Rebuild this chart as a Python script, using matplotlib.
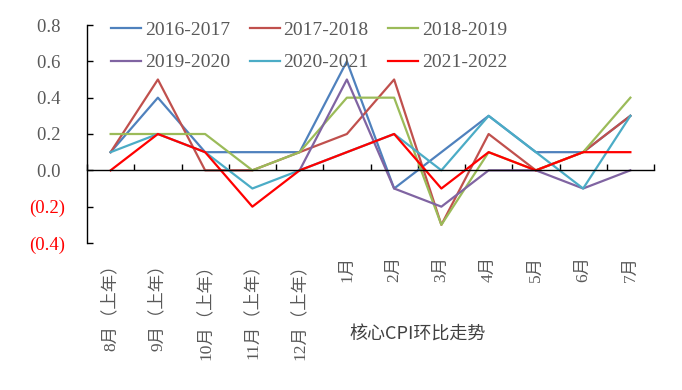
import matplotlib
matplotlib.use("Agg")
import matplotlib.pyplot as plt
import numpy as np

# categories (x axis)
months = ["8月（上年）", "9月（上年）", "10月（上年）", "11月（上年）", "12月（上年）",
          "1月", "2月", "3月", "4月", "5月", "6月", "7月"]

# core CPI month-on-month
s2016_2017 = [0.1, 0.4, 0.1, 0.1, 0.1, 0.6, -0.1, 0.1, 0.3, 0.1, 0.1, 0.3]
s2017_2018 = [0.1, 0.5, 0.0, 0.0, 0.1, 0.2, 0.5, -0.3, 0.2, 0.0, 0.1, 0.3]
s2018_2019 = [0.2, 0.2, 0.2, 0.0, 0.1, 0.4, 0.4, -0.3, 0.1, 0.0, 0.1, 0.4]
s2019_2020 = [np.nan, np.nan, np.nan, np.nan, 0.0, 0.5, -0.1, -0.2, 0.0, 0.0, -0.1, 0.0]
s2020_2021 = [0.1, 0.2, 0.1, -0.1, 0.0, 0.1, 0.2, 0.0, 0.3, 0.1, -0.1, 0.3]
s2021_2022 = [0.0, 0.2, 0.1, -0.2, 0.0, 0.1, 0.2, -0.1, 0.1, 0.0, 0.1, 0.1]

series_names = ["2016-2017", "2017-2018", "2018-2019", "2019-2020", "2020-2021", "2021-2022"]
series = [s2016_2017, s2017_2018, s2018_2019, s2019_2020, s2020_2021, s2021_2022]
colors = ["#4F81BD", "#C0504D", "#9BBB59", "#8064A2", "#4BACC6", "#FF0000"]

yticks = [-0.4, -0.2, 0.0, 0.2, 0.4, 0.6, 0.8]

serif = ["Liberation Serif", "Noto Sans CJK SC"]
gray = "#595959"

fig = plt.figure(figsize=(6.82, 3.9), dpi=100)
ax = fig.add_axes([87 / 682, 1 - 243 / 390, (654 - 87) / 682, 218 / 390])

x = np.arange(len(months))
lines = []
for name, vals, c in zip(series_names, series, colors):
    ln, = ax.plot(x, vals, color=c, lw=1.6, label=name)
    lines.append(ln)

ax.set_xlim(-0.5, len(months) - 0.5)
ax.set_ylim(-0.4, 0.8)

# spines
ax.spines["top"].set_visible(False)
ax.spines["right"].set_visible(False)
ax.spines["bottom"].set_position(("data", 0))
ax.spines["left"].set_linewidth(1.0)
ax.spines["bottom"].set_linewidth(1.0)

# x ticks at category boundaries, labels drawn by hand under the plot
ax.set_xticks(np.arange(-0.5, len(months), 1))
ax.set_xticklabels([])
ax.tick_params(axis="x", direction="in", length=4.5, width=1.0)
for i, lab in enumerate(months):
    ax.text(i, -0.47, lab, rotation=90, ha="center", va="top",
            fontsize=12.5, color=gray, family=serif)

# y ticks, negatives in red with brackets
ax.set_yticks(yticks)
ylabels = []
for v in yticks:
    if v < 0:
        ylabels.append("(%.1f)" % abs(v))
    else:
        ylabels.append("%.1f " % v)
ax.set_yticklabels(ylabels, family=serif, fontsize=13.5)
ax.tick_params(axis="y", direction="in", length=4.5, width=1.0, pad=16)
for v, t in zip(yticks, ax.get_yticklabels()):
    t.set_color("#FF0000" if v < 0 else gray)

# legend filled row by row (3 columns, 2 rows)
order = [0, 3, 1, 4, 2, 5]
leg = ax.legend([lines[i] for i in order], [series_names[i] for i in order],
                loc="upper left", bbox_to_anchor=(111 / 682, 1 - 21 / 390),
                bbox_transform=fig.transFigure, ncol=3, frameon=False,
                borderpad=0, borderaxespad=0, handlelength=1.55,
                handletextpad=0.2, columnspacing=1.0, labelspacing=0.78,
                prop={"family": serif, "size": 14})
for t in leg.get_texts():
    t.set_color(gray)

fig.text(418 / 682, 1 - 335 / 390, "核心CPI环比走势", ha="center", va="center",
         fontsize=13, color="#404040", family=["Noto Sans CJK SC", "DejaVu Sans"])

fig.savefig("out.png", dpi=100)
